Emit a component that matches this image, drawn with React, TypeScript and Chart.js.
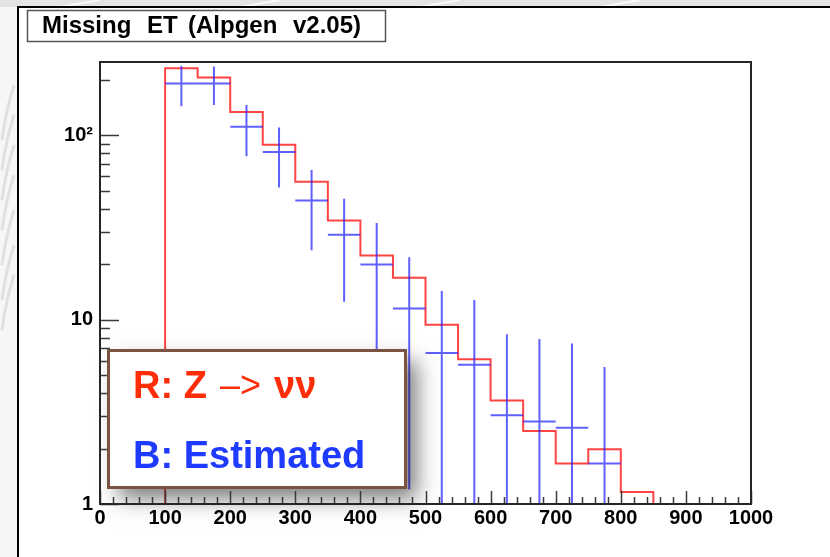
import { useEffect, useRef } from "react";
import { Chart, registerables } from "chart.js";

Chart.register(...registerables);

// Missing ET histogram (GeV), bins of 50 starting at each lower edge.
const binWidth = 50;
const binEdges = [0, 50, 100, 150, 200, 250, 300, 350, 400, 450, 500, 550, 600, 650, 700, 750, 800, 850, 900, 950];
// Z -> nu nu (red) entries per bin; empty bins are 0
const zNuNuCounts = [0, 0, 231, 206, 134, 89, 56, 34.5, 22.3, 16.9, 9.4, 6.1, 3.64, 2.49, 1.66, 1.98, 1.16, 0, 0, 0];

// Estimated (blue) points at bin centres with symmetric errors
const estCenters = [125, 175, 225, 275, 325, 375, 425, 475, 525, 575, 625, 675, 725, 775];
const estValues = [191, 191, 111.5, 81.2, 44.3, 28.9, 19.9, 11.5, 6.6, 5.7, 3.03, 2.8, 2.59, 1.66];
const estErrors = [47, 45, 34.5, 29, 20.5, 16.4, 13.6, 10.3, 7.7, 7.1, 5.3, 5.05, 4.84, 3.87];

// Axes
const xMin = 0;
const xMax = 1000;
const xStep = 100;
const xMinorStep = 20;
const yMin = 1;
const yMax = 250;
const yTickValues = [1, 10, 100];
const yTickLabels = ["1", "10", "10\u00b2"];
const yMinorTicks = [2, 3, 4, 5, 6, 7, 8, 9, 20, 30, 40, 50, 60, 70, 80, 90, 200];

const titleWords = ["Missing", "ET", "(Alpgen", "v2.05)"];
const legendRed = ["R: Z", "\u2013>", "\u03bd\u03bd"];
const legendBlue = "B: Estimated";

const FONT = '"Liberation Sans", Arial, Helvetica, sans-serif';
const W = 830;
const H = 557;

const slidePlugin = {
  id: "slide",
  beforeDraw(chart: any) {
    const ctx = chart.ctx;
    ctx.save();
    ctx.fillStyle = "#ffffff";
    ctx.fillRect(0, 0, W, H);
    // surrounding slide strip
    ctx.fillStyle = "#e4e4e4";
    ctx.fillRect(0, 0, W, 7);
    ctx.fillStyle = "#f6f6f6";
    ctx.fillRect(0, 7, 18, H - 7);
    ctx.beginPath();
    ctx.rect(0, 0, 18, H);
    ctx.rect(18, 0, W, 7);
    ctx.clip();
    ctx.strokeStyle = "rgba(205,205,205,0.55)";
    ctx.lineWidth = 3;
    const wisps = [110, 140, 170, 200, 235, 270, 300];
    wisps.forEach((y0) => {
      ctx.beginPath();
      ctx.moveTo(2, y0 + 30);
      ctx.quadraticCurveTo(6, y0, 14, y0 - 25);
      ctx.stroke();
    });
    ctx.strokeStyle = "rgba(255,255,255,0.8)";
    ctx.lineWidth = 2;
    [60, 240, 420, 600].forEach((x0) => {
      ctx.beginPath();
      ctx.moveTo(x0, 7);
      ctx.lineTo(x0 + 40, 0);
      ctx.stroke();
    });
    ctx.restore();
    // slide frame
    ctx.save();
    ctx.fillStyle = "#000000";
    ctx.fillRect(17, 6, 2, H - 6);
    ctx.fillRect(17, 6, W - 17, 2);
    ctx.restore();
  },
  afterDraw(chart: any) {
    const ctx = chart.ctx;
    // title box
    ctx.save();
    ctx.fillStyle = "#ffffff";
    ctx.fillRect(27, 10, 359, 32);
    ctx.strokeStyle = "#555555";
    ctx.lineWidth = 1.5;
    ctx.strokeRect(27.5, 10.5, 358, 31);
    ctx.fillStyle = "#000000";
    ctx.font = `bold 24px ${FONT}`;
    ctx.textBaseline = "alphabetic";
    const xs = [42, 147, 188, 293];
    titleWords.forEach((w, i) => ctx.fillText(w, xs[i], 33));
    ctx.restore();
  },
};

const histPlugin = {
  id: "histExtras",
  afterDatasetsDraw(chart: any) {
    const ctx = chart.ctx;
    const a = chart.chartArea;
    const xs = chart.scales.x;
    const ys = chart.scales.y;

    // estimated points with error bars
    ctx.save();
    ctx.beginPath();
    ctx.rect(a.left, a.top, a.right - a.left, a.bottom - a.top);
    ctx.clip();
    ctx.strokeStyle = "rgba(35,35,255,0.72)";
    ctx.lineWidth = 2;
    estCenters.forEach((c, i) => {
      const v = estValues[i];
      const e = estErrors[i];
      const px = xs.getPixelForValue(c);
      const py = ys.getPixelForValue(v);
      const hi = ys.getPixelForValue(v + e);
      const lo = v - e > yMin ? ys.getPixelForValue(v - e) : a.bottom;
      ctx.beginPath();
      ctx.moveTo(xs.getPixelForValue(c - binWidth / 2), py);
      ctx.lineTo(xs.getPixelForValue(c + binWidth / 2), py);
      ctx.moveTo(px, lo);
      ctx.lineTo(px, hi);
      ctx.stroke();
    });
    ctx.restore();

    // legend box with soft shadow
    ctx.save();
    ctx.shadowColor = "rgba(0,0,0,0.5)";
    ctx.shadowBlur = 20;
    ctx.shadowOffsetX = 11;
    ctx.shadowOffsetY = 11;
    ctx.fillStyle = "#ffffff";
    ctx.fillRect(108, 350, 298, 138);
    ctx.restore();

    // axis ticks (inside the frame)
    ctx.save();
    ctx.strokeStyle = "#3a3a3a";
    ctx.lineWidth = 1.5;
    ctx.beginPath();
    for (let v = xMin; v <= xMax; v += xMinorStep) {
      const px = Math.round(xs.getPixelForValue(v)) + 0.5;
      const len = v % xStep === 0 ? 13 : 7;
      ctx.moveTo(px, a.bottom);
      ctx.lineTo(px, a.bottom - len);
    }
    yTickValues.forEach((v) => {
      const py = Math.round(ys.getPixelForValue(v)) + 0.5;
      ctx.moveTo(a.left, py);
      ctx.lineTo(a.left + 19, py);
    });
    yMinorTicks.forEach((v) => {
      const py = Math.round(ys.getPixelForValue(v)) + 0.5;
      ctx.moveTo(a.left, py);
      ctx.lineTo(a.left + 10, py);
    });
    ctx.stroke();
    ctx.restore();

    // legend frame and text
    ctx.save();
    ctx.fillStyle = "#ffffff";
    ctx.fillRect(108, 350, 298, 138);
    ctx.strokeStyle = "#7a5343";
    ctx.lineWidth = 3;
    ctx.strokeRect(108.5, 350.5, 297, 137);
    ctx.textBaseline = "alphabetic";
    ctx.fillStyle = "#ff2d08";
    ctx.font = `bold 38px ${FONT}`;
    ctx.fillText(legendRed[0], 133, 398);
    ctx.font = `normal 36px ${FONT}`;
    ctx.fillText(legendRed[1], 220, 397);
    ctx.font = `bold 38px ${FONT}`;
    ctx.fillText(legendRed[2], 274, 398);
    ctx.fillStyle = "#1f3bff";
    ctx.fillText(legendBlue, 133, 468);
    ctx.restore();

    // plot frame
    ctx.save();
    ctx.strokeStyle = "#262626";
    ctx.lineWidth = 2;
    ctx.strokeRect(a.left, a.top, a.right - a.left, a.bottom - a.top);
    ctx.restore();
  },
};

export default function App() {
  const canvasRef = useRef<HTMLCanvasElement | null>(null);

  useEffect(() => {
    if (!canvasRef.current) return;
    const redPoints = binEdges.map((e, i) => ({
      x: e,
      y: zNuNuCounts[i] > 0 ? zNuNuCounts[i] : yMin, // empty bins sit on the axis floor
    }));
    const last = zNuNuCounts[zNuNuCounts.length - 1];
    redPoints.push({ x: xMax, y: last > 0 ? last : yMin });

    const chart = new Chart(canvasRef.current, {
      type: "line",
      data: {
        datasets: [
          {
            label: "Z -> nu nu",
            data: redPoints,
            stepped: "before",
            borderColor: "rgba(255,35,35,0.85)",
            borderWidth: 2,
            pointRadius: 0,
            fill: false,
            tension: 0,
          },
        ],
      },
      options: {
        responsive: false,
        animation: false,
        devicePixelRatio: 1,
        layout: { padding: { top: 62, right: 79, bottom: 0, left: 0 } },
        plugins: {
          legend: { display: false },
          tooltip: { enabled: false },
          title: { display: false },
        },
        scales: {
          x: {
            type: "linear",
            min: xMin,
            max: xMax,
            afterFit: (s: any) => {
              s.height = 53;
            },
            grid: { display: false, drawTicks: false },
            border: { display: false },
            ticks: {
              stepSize: xStep,
              autoSkip: false,
              maxRotation: 0,
              padding: 2,
              color: "#000000",
              font: { family: FONT, size: 20, weight: "bold" },
              callback: (v: any) => String(v),
            },
          },
          y: {
            type: "logarithmic",
            min: yMin,
            max: yMax,
            afterFit: (s: any) => {
              s.width = 100;
            },
            afterBuildTicks: (s: any) => {
              s.ticks = yTickValues.map((v) => ({ value: v }));
            },
            grid: { display: false, drawTicks: false },
            border: { display: false },
            ticks: {
              padding: 7,
              color: "#000000",
              font: { family: FONT, size: 20, weight: "bold" },
              callback: (_v: any, i: number) => yTickLabels[i],
            },
          },
        },
      },
      plugins: [slidePlugin, histPlugin],
    } as any);

    return () => chart.destroy();
  }, []);

  return (
    <div style={{ position: "absolute", left: 0, top: 0, width: W, height: H }}>
      <canvas ref={canvasRef} width={W} height={H} style={{ display: "block" }} />
    </div>
  );
}
